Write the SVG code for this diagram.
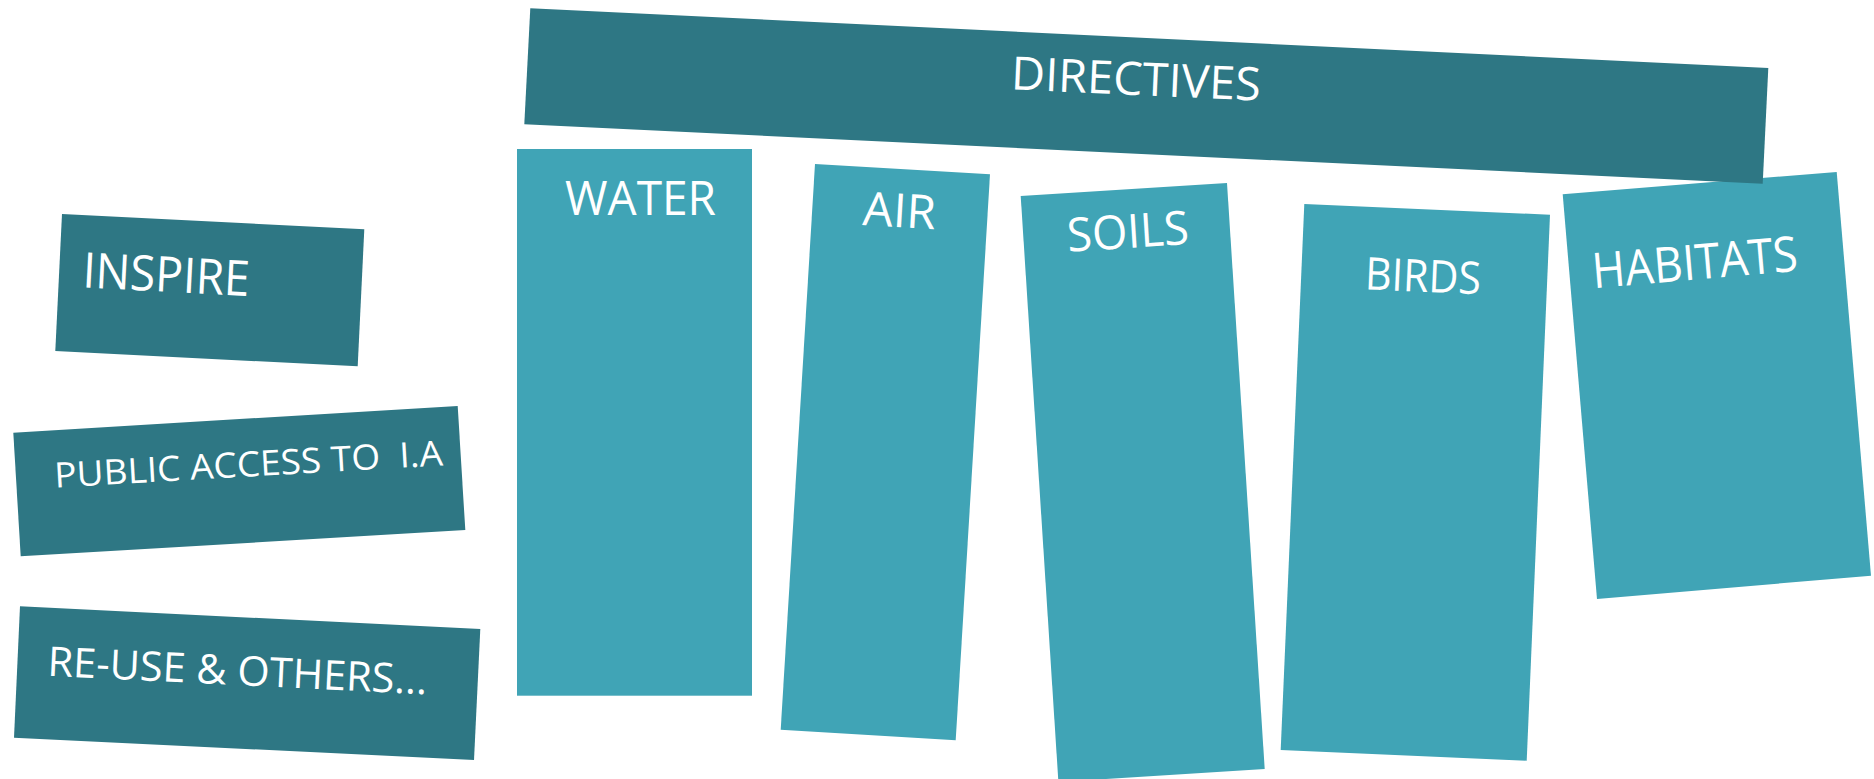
<svg xmlns="http://www.w3.org/2000/svg" width="1874" height="779" viewBox="0 0 1874 779">
  <style>
    .dark { fill: #2E7784; }
    .light { fill: #40A4B6; }
    .lbl { fill: #FFFFFF; font-family: "Open Sans", "Noto Sans", "Liberation Sans", sans-serif; font-weight: 400; white-space: pre; }
  </style>
  <rect x="0" y="0" width="1874" height="779" fill="#FFFFFF"/>

  <g id="water">
    <rect class="light" x="517" y="149" width="235" height="546.7"/>
    <text class="lbl" x="565" y="215" font-size="47" textLength="151" lengthAdjust="spacingAndGlyphs">WATER</text>
  </g>

  <g id="air">
    <polygon class="light" points="815,164 990,174.3 955.7,740.3 780.7,729.7"/>
    <text class="lbl" transform="translate(862,225) rotate(3.4)" font-size="47" textLength="73" lengthAdjust="spacingAndGlyphs">AIR</text>
  </g>

  <g id="soils">
    <polygon class="light" points="1020.7,196 1227,183 1264.7,769 1058.4,782"/>
    <text class="lbl" transform="translate(1068,251.7) rotate(-3.6)" font-size="47" textLength="122" lengthAdjust="spacingAndGlyphs">SOILS</text>
  </g>

  <g id="birds">
    <polygon class="light" points="1304.3,204 1550,214.7 1526.7,760.7 1280.7,750"/>
    <text class="lbl" transform="translate(1364.5,289.3) rotate(2.5)" font-size="45" textLength="116" lengthAdjust="spacingAndGlyphs">BIRDS</text>
  </g>

  <g id="habitats">
    <polygon class="light" points="1562.7,194.3 1836.7,172 1871,575.7 1597,599"/>
    <text class="lbl" transform="translate(1593.5,288.3) rotate(-4.9)" font-size="49" textLength="206" lengthAdjust="spacingAndGlyphs">HABITATS</text>
  </g>

  <g id="directives">
    <polygon class="dark" points="530.3,8.3 1768.3,68 1762.7,183.7 524.3,124.3"/>
    <text class="lbl" transform="translate(1010.5,89.3) rotate(2.6)" font-size="46" textLength="250" lengthAdjust="spacingAndGlyphs">DIRECTIVES</text>
  </g>

  <g id="inspire">
    <polygon class="dark" points="62,214 364.3,229.3 357.7,366.3 55.3,351"/>
    <text class="lbl" transform="translate(82,287.3) rotate(3)" font-size="49" textLength="167" lengthAdjust="spacingAndGlyphs">INSPIRE</text>
  </g>

  <g id="public-access">
    <polygon class="dark" points="13.3,432.7 457.7,406 465.3,530 20.7,556.3"/>
    <text class="lbl" xml:space="preserve" transform="translate(55,487.7) rotate(-3.3)" font-size="35" textLength="389" lengthAdjust="spacingAndGlyphs">PUBLIC ACCESS TO  I.A</text>
  </g>

  <g id="re-use">
    <polygon class="dark" points="20,606.3 480.3,629 474,760 14,737.7"/>
    <text class="lbl" transform="translate(47,675.7) rotate(2.8)" font-size="41" textLength="380" lengthAdjust="spacingAndGlyphs">RE-USE &amp; OTHERS...</text>
  </g>
</svg>
